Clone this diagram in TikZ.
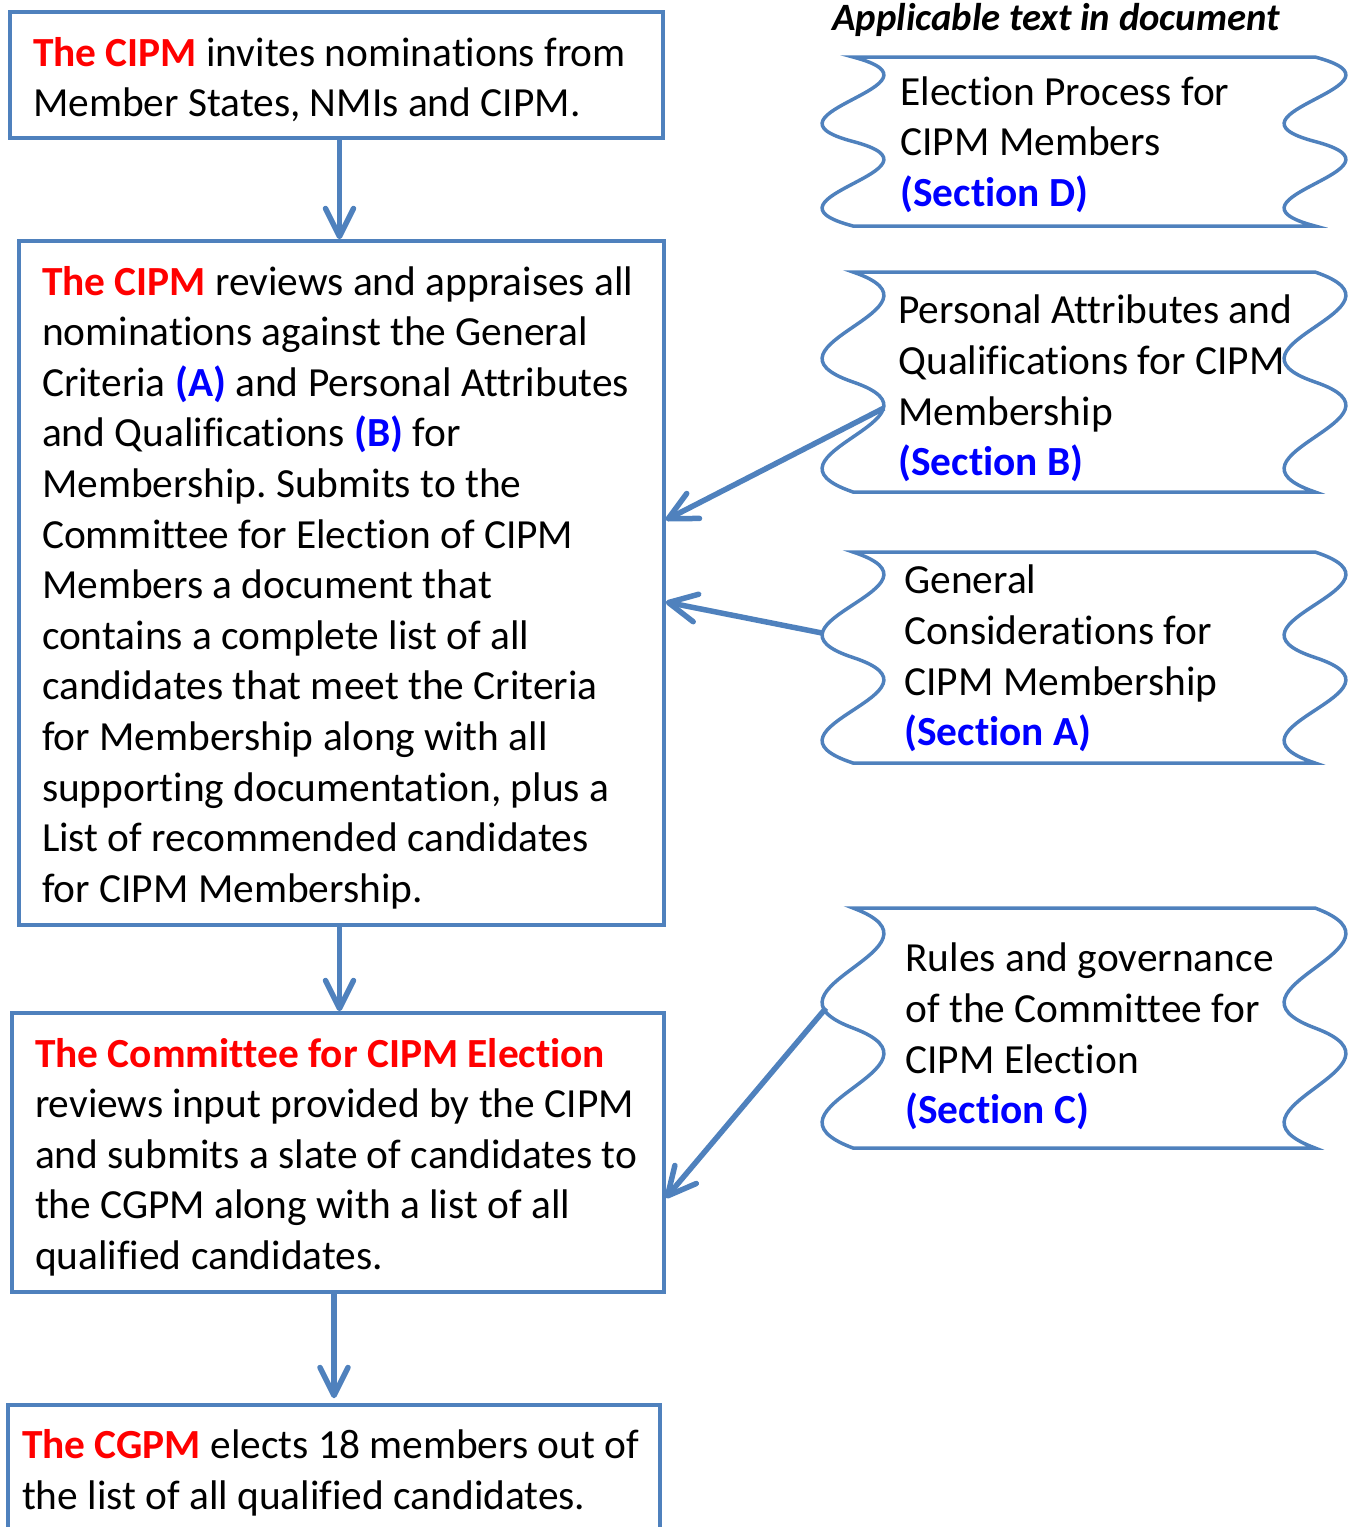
\documentclass[tikz,border=0pt]{standalone}
\usepackage{fontspec}
\setmainfont{Carlito}[Ligatures=NoCommon]
\usetikzlibrary{arrows.meta}
\definecolor{boxblue}{RGB}{79,129,189}
\definecolor{keyred}{RGB}{255,0,0}
\definecolor{secblue}{RGB}{0,0,255}
\newcommand{\actor}[1]{\textcolor{keyred}{\textbf{#1}}}
\newcommand{\secref}[1]{\textcolor{secblue}{\textbf{#1}}}
\newcommand{\bodyfont}{\fontsize{20.7}{25.3}\selectfont}
\newcommand{\droptext}{\par\vspace*{-4.5pt}}
\frenchspacing
\hyphenpenalty=10000

\begin{document}
\begin{tikzpicture}[x=0.5pt, y=-0.5pt,
    every node/.style={font=\bodyfont},
    flowbox/.style={draw=boxblue, line width=1.75pt, align=flush left, inner xsep=11.5pt, inner ysep=0pt,
      execute at end node=\droptext},
    wavetext/.style={anchor=west, align=left, inner sep=0pt},
    waveline/.style={draw=boxblue, line width=1.75pt},
    flowarrow/.style={draw=boxblue, line width=2.75pt, -{Straight Barb[length=14pt, width=14pt, round]}}]
    \useasboundingbox (0,0) rectangle (1355,1527);

    \node[flowbox, minimum width=326.5pt, minimum height=63pt, text width=303.5pt] (nominate) at (336.5,75)
      {\actor{The CIPM} invites nominations from\\Member States, NMIs and CIPM.};
    \node[flowbox, minimum width=322.5pt, minimum height=342pt, text width=299.5pt] (review) at (341.5,583)
      {\actor{The CIPM} reviews and appraises all\\
       nominations against the General\\
       Criteria \secref{(A)} and Personal Attributes\\
       and Qualifications \secref{(B)} for\\
       Membership. Submits to the\\
       Committee for Election of CIPM\\
       Members a document that\\
       contains a complete list of all\\
       candidates that meet the Criteria\\
       for Membership along with all\\
       supporting documentation, plus a\\
       List of recommended candidates\\
       for CIPM Membership.};
    \node[flowbox, minimum width=326pt, minimum height=139.5pt, text width=303pt] (slate) at (338,1152.5)
      {\actor{The Committee for CIPM Election}\\
       reviews input provided by the CIPM\\
       and submits a slate of candidates to\\
       the CGPM along with a list of all\\
       qualified candidates.};
    \node[flowbox, inner xsep=7pt, minimum width=326pt, minimum height=63pt, text width=312pt] (elect) at (334,1468)
      {\actor{The CGPM} elects 18 members out of\\the list of all qualified candidates.};

    \node[font=\fontsize{19.35}{23}\selectfont\bfseries\itshape] (heading) at (1056,20) {Applicable text in document};

    \foreach \yt/\yb in {57/226, 272/492, 552/763, 908/1148} {
      \pgfmathsetmacro{\ym}{(\yt+\yb)/2}
      \pgfmathsetmacro{\q}{(\yb-\yt)/6}
      \draw[waveline] (853,\yt) .. controls (960,\yt+\q) and (746,\yt+2*\q) .. (853,\ym)
        .. controls (960,\ym+\q) and (746,\ym+2*\q) .. (853,\yb) -- (1315,\yb)
        .. controls (1208,\yb-\q) and (1422,\yb-2*\q) .. (1315,\ym)
        .. controls (1208,\ym-\q) and (1422,\ym-2*\q) .. (1315,\yt) -- cycle;
    }

    \node[wavetext] (secD) at (900,144.5) {Election Process for\\CIPM Members\\\secref{(Section D)}};
    \node[wavetext] (secB) at (898,388.5) {Personal Attributes and\\Qualifications for CIPM\\Membership\\\secref{(Section B)}};
    \node[wavetext] (secA) at (904,658.5) {General\\Considerations for\\CIPM Membership\\\secref{(Section A)}};
    \node[wavetext] (secC) at (905,1036.5) {Rules and governance\\of the Committee for\\CIPM Election\\\secref{(Section C)}};

    \coordinate (secB-port) at (884,408);
    \coordinate (secA-port) at (822,633);
    \coordinate (secC-port) at (826,1008);

    \draw[flowarrow] ([xshift=1.5pt]nominate.south) -- ([xshift=1.5pt]nominate.south |- review.north);
    \draw[flowarrow] ([xshift=-1pt]review.south) -- ([xshift=-1pt]review.south |- slate.north);
    \draw[flowarrow] ([xshift=-2pt]slate.south) -- ([xshift=-2pt, yshift=2.5pt]slate.south |- elect.north);
    \draw[flowarrow] (secB-port) -- ([yshift=31.5pt]review.east);
    \draw[flowarrow] (secA-port) -- ([yshift=-9.5pt]review.east);
    \draw[flowarrow] (secC-port) -- ([yshift=-22.75pt]slate.east);
\end{tikzpicture}
\end{document}
